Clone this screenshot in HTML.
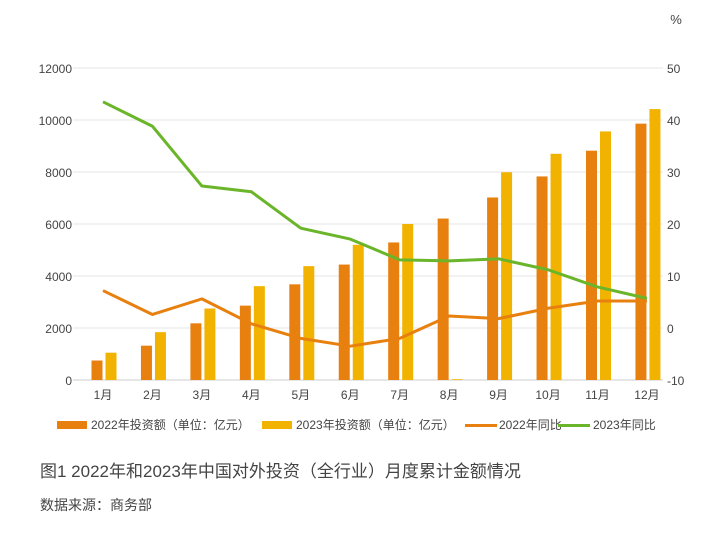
<!DOCTYPE html>
<html><head><meta charset="utf-8"><style>
body{margin:0;background:#fff;width:721px;height:541px;overflow:hidden}
svg text{font-family:"Liberation Sans","Noto Sans CJK SC",sans-serif}
</style></head><body>
<svg width="721" height="541">
<g id="grid"></g><g id="bars"></g><g id="lines"></g><g id="axes"></g>
<text x="676" y="24" font-size="13" fill="#444" text-anchor="middle">%</text>
<g font-size="12" fill="#444">
<rect x="57" y="421" width="30" height="8" fill="#E8800F"/>
<text x="91" y="429">2022年投资额（单位：亿元）</text>
<rect x="262" y="421" width="30" height="8" fill="#F2B300"/>
<text x="296" y="429">2023年投资额（单位：亿元）</text>
<rect x="465" y="424" width="32" height="3" fill="#E8800F"/>
<text x="499" y="429">2022年同比</text>
<rect x="558" y="424" width="32" height="3" fill="#6BB52A"/>
<text x="593" y="429">2023年同比</text>
</g>
<text x="40" y="477" font-size="17" fill="#444">图1 2022年和2023年中国对外投资（全行业）月度累计金额情况</text>
<text x="40" y="510" font-size="14" fill="#444">数据来源：商务部</text>
</svg>
<script>
const months=["1月","2月","3月","4月","5月","6月","7月","8月","9月","10月","11月","12月"];
const amount2022=[750,1320,2180,2860,3680,4440,5290,6210,7020,7830,8820,9860];
const amount2023=[1050,1840,2750,3610,4380,5200,6000,30,7990,8700,9560,10420];
const yoy2022=[7.2,2.6,5.6,0.8,-2.0,-3.5,-2.0,2.3,1.8,3.8,5.2,5.2];
const yoy2023=[43.5,38.8,27.3,26.2,19.2,17.1,13.1,12.9,13.3,11.2,7.9,5.7];
const leftTicks=[0,2000,4000,6000,8000,10000,12000];
const rightTicks=[-10,0,10,20,30,40,50];
const NS="http://www.w3.org/2000/svg";
const yL=v=>380-v*312/12000, yR=v=>380-(v+10)*312/60, xC=i=>103+i*49.45;
function mk(p,t,a){const e=document.createElementNS(NS,t);for(const k in a)e.setAttribute(k,a[k]);document.getElementById(p).appendChild(e);return e;}
leftTicks.forEach((v,i)=>{
 const g=mk('grid','line',{x1:73,x2:663,y1:yL(v),y2:yL(v),stroke:i==0?'#ccc':'#e6e6e6','stroke-width':1});
 
 const t=mk('axes','text',{x:72,y:yL(v)+5,'font-size':12,fill:'#444','text-anchor':'end'});t.textContent=v;
 
});
rightTicks.forEach(v=>{
 const t=mk('axes','text',{x:667,y:yR(v)+5,'font-size':12,fill:'#444'});t.textContent=v;
 
});
months.forEach((m,i)=>{
 const t=mk('axes','text',{x:xC(i),y:399,'font-size':12,fill:'#444','text-anchor':'middle'});t.textContent=m;
 
 const b1=mk('bars','rect',{x:xC(i)-11.5,y:yL(amount2022[i]),width:11,height:380-yL(amount2022[i]),fill:'#E8800F'});
 
 const b2=mk('bars','rect',{x:xC(i)+2.5,y:yL(amount2023[i]),width:11,height:380-yL(amount2023[i]),fill:'#F2B300'});
 
});
const l1=mk('lines','polyline',{points:yoy2022.map((v,i)=>xC(i)+','+yR(v)).join(' '),fill:'none',stroke:'#E8800F','stroke-width':3,'stroke-linejoin':'round'});

const l2=mk('lines','polyline',{points:yoy2023.map((v,i)=>xC(i)+','+yR(v)).join(' '),fill:'none',stroke:'#6BB52A','stroke-width':3,'stroke-linejoin':'round'});

</script>
</body></html>
